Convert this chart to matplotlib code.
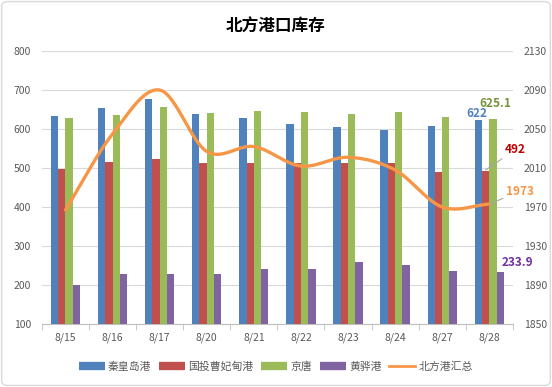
import matplotlib
matplotlib.use("Agg")
import matplotlib.pyplot as plt
import numpy as np
from matplotlib.patches import FancyBboxPatch
from matplotlib.lines import Line2D

plt.rcParams['font.family'] = ['Noto Sans CJK SC', 'DejaVu Sans']

dates = ["8/15", "8/16", "8/17", "8/20", "8/21", "8/22", "8/23", "8/24", "8/27", "8/28"]
qhd = [634, 654, 676, 638, 628, 612, 606, 598, 608, 622]
caofeidian = [497, 515, 523, 513, 513, 513, 513, 513, 490, 492]
jingtang = [628, 636, 656, 641, 646, 643, 638, 643, 631, 625.1]
huanghua = [200, 228, 228, 228, 241, 241, 258, 251, 236, 233.9]
total = [1967, 2045, 2090, 2027, 2032, 2012, 2021, 2008, 1970, 1973]

names = ["秦皇岛港", "国投曹妃甸港", "京唐", "黄骅港", "北方港汇总"]
colors = ["#4F81BD", "#C0504D", "#9BBB59", "#8064A2", "#F79646"]

fig = plt.figure(figsize=(5.52, 3.87), dpi=100)
fig.patch.set_facecolor("white")
border = FancyBboxPatch((0.003, 0.004), 0.994, 0.992, boxstyle="round,pad=0,rounding_size=0.012",
                        transform=fig.transFigure, fill=False, edgecolor="#D9D9D9", linewidth=1.0)
fig.patches.append(border)

ax = fig.add_axes([0.076, 0.163, 0.853, 0.705])
ax2 = ax.twinx()

x = np.arange(len(dates))
w = 0.155
series = [qhd, caofeidian, jingtang, huanghua]
for i, s in enumerate(series):
    ax.bar(x + (i - 1.5) * w, s, width=w, color=colors[i], zorder=3, bottom=0)

ax.set_ylim(100, 800)
ax.set_yticks(np.arange(100, 801, 100))
ax.set_xlim(-0.5, len(dates) - 0.5)
ax.set_xticks(x)
ax.set_xticklabels(dates)
ax.set_xticks(np.arange(-0.5, len(dates)), minor=True)
ax.tick_params(axis='x', which='major', length=0, labelsize=7.5, labelcolor="#595959", pad=6)
ax.tick_params(axis='x', which='minor', length=4, color="#BFBFBF")
ax.tick_params(axis='y', length=0, labelsize=7.5, labelcolor="#595959", pad=8)
ax.grid(axis='y', color="#D9D9D9", linewidth=0.8, zorder=0)
for sp in ["top", "right", "left"]:
    ax.spines[sp].set_visible(False)
ax.spines["bottom"].set_color("#BFBFBF")

# smoothed line (Catmull-Rom)
def catmull(xs, ys, n=30):
    xs = np.asarray(xs, float); ys = np.asarray(ys, float)
    px = np.concatenate([[2*xs[0]-xs[1]], xs, [2*xs[-1]-xs[-2]]])
    py = np.concatenate([[2*ys[0]-ys[1]], ys, [2*ys[-1]-ys[-2]]])
    ox, oy = [], []
    for i in range(1, len(px) - 2):
        t = np.linspace(0, 1, n)
        for arr, out in ((px, ox), (py, oy)):
            p0, p1, p2, p3 = arr[i-1], arr[i], arr[i+1], arr[i+2]
            out.extend(0.5*((2*p1) + (-p0+p2)*t + (2*p0-5*p1+4*p2-p3)*t**2 + (-p0+3*p1-3*p2+p3)*t**3))
    return np.array(ox), np.array(oy)

sx, sy = catmull(x, total)
ax2.plot(sx, sy, color=colors[4], linewidth=2.4, zorder=4, solid_capstyle='round')
ax2.set_ylim(1850, 2130)
ax2.set_yticks(np.arange(1850, 2131, 40))
ax2.tick_params(axis='y', length=0, labelsize=7.5, labelcolor="#595959", pad=8)
for sp in ["top", "right", "left", "bottom"]:
    ax2.spines[sp].set_visible(False)

# data labels for last point
li = len(dates) - 1
ax.text(x[li] - 1.5*w - 0.03, qhd[li] + 2, f"{qhd[li]:g}", color=colors[0], fontsize=8.5, fontweight='bold',
        ha='center', va='bottom', zorder=6)
ax.text(x[li] + 0.5*w + 0.05, jingtang[li] + 24, f"{jingtang[li]:g}", color="#77933C", fontsize=8.5,
        fontweight='bold', ha='center', va='bottom', zorder=6)
ax.text(x[li] + 1.5*w + 0.02, huanghua[li] + 8, f"{huanghua[li]:g}", color="#7030A0", fontsize=8.5,
        fontweight='bold', ha='left', va='bottom', zorder=6)
ax.annotate(f"{caofeidian[li]:g}", xy=(x[li] - 0.5*w, caofeidian[li] + 3), xytext=(x[li] + 0.33, caofeidian[li] + 55),
            color="#C00000", fontsize=8.5, fontweight='bold', ha='left', va='center', zorder=6,
            arrowprops=dict(arrowstyle='-', color="#A6A6A6", linewidth=0.8, shrinkA=0, shrinkB=0))
ax2.annotate(f"{total[li]:g}", xy=(x[li], total[li]), xytext=(x[li] + 0.35, total[li] + 13),
             color=colors[4], fontsize=8.5, fontweight='bold', ha='left', va='center', zorder=6,
             arrowprops=dict(arrowstyle='-', color="#A6A6A6", linewidth=0.8, shrinkA=0, shrinkB=0))

fig.text(0.5, 0.932, "北方港口库存", ha='center', va='center', fontsize=12, fontweight='bold', color="black")

handles = [Line2D([0], [0], color=c, linewidth=6, solid_capstyle='butt') for c in colors[:4]]
handles.append(Line2D([0], [0], color=colors[4], linewidth=2))
fig.legend(handles, names, loc='center', bbox_to_anchor=(0.5, 0.052), ncol=5, frameon=False,
           fontsize=7.8, labelcolor="#595959", handlelength=2.4, handletextpad=0.3, columnspacing=0.7)

fig.savefig("out.png", dpi=100)
